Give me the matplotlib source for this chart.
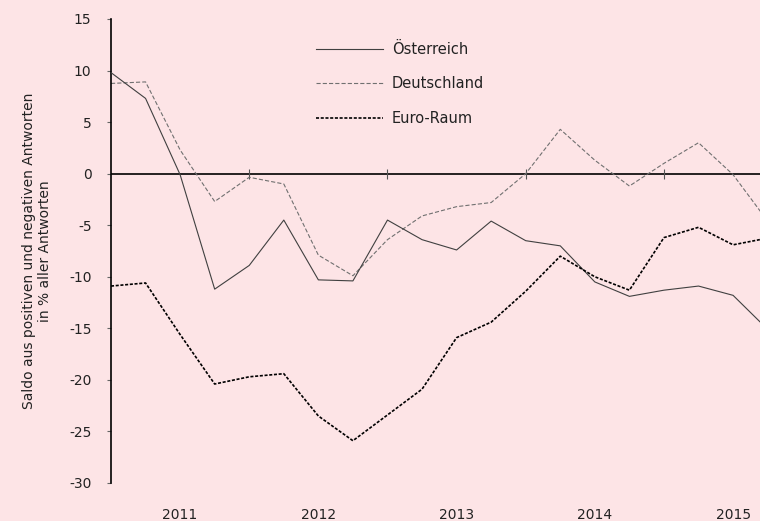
"""Saldo aus positiven und negativen Antworten: Österreich, Deutschland, Euro-Raum."""

import matplotlib as mpl
import matplotlib.pyplot as plt
import numpy as np

BG = "#fde4e6"

mpl.rcParams.update({
    "font.family": "DejaVu Sans",
    "font.size": 10,
    "lines.scale_dashes": False,
    "axes.unicode_minus": False,
})

# quarterly observations, 2011 onwards (last one runs off the right edge)
oesterreich = [9.8, 7.3, -0.1, -11.2, -8.9, -4.5, -10.3, -10.4, -4.5, -6.4,
               -7.4, -4.6, -6.5, -7.0, -10.5, -11.9, -11.3, -10.9, -11.8, -15.1]
deutschland = [8.75, 8.9, 2.3, -2.7, -0.35, -1.0, -7.9, -9.9, -6.4, -4.1,
               -3.2, -2.8, 0.0, 4.3, 1.3, -1.2, 1.0, 3.0, -0.1, -4.6]
euro_raum = [-10.9, -10.6, -15.6, -20.4, -19.7, -19.4, -23.5, -25.9, -23.4, -20.9,
             -15.9, -14.4, -11.4, -8.0, -10.0, -11.3, -6.2, -5.2, -6.9, -6.25]
years = ["2011", "2012", "2013", "2014", "2015"]
year_pos = [2, 6, 10, 14, 18]
year_breaks = [4, 8, 12, 16]

x = np.arange(len(oesterreich))

fig = plt.figure(figsize=(7.60, 5.21), dpi=100, facecolor=BG)
ax = fig.add_axes([111 / 760, 1 - 483 / 521, 1 - 111 / 760, (483 - 19) / 521])
ax.set_facecolor(BG)

ax.axhline(0, color="black", lw=1.2, zorder=1)
ax.plot(year_breaks, [0] * len(year_breaks), ls="none", marker="|", ms=7.5,
        mew=0.8, color="#555555", zorder=1)

ax.plot(x, oesterreich, color="#404040", lw=0.8, label="Österreich", zorder=3)
ax.plot(x, deutschland, color="#707070", lw=0.8, dashes=(3, 1.5),
        label="Deutschland", zorder=2)
ax.plot(x, euro_raum, color="black", lw=1.2, dashes=(2.2, 1.2),
        label="Euro-Raum", zorder=4)

ax.set_xlim(0, (760 - 111) / 34.56)
ax.set_ylim(-30, 15)
ax.set_yticks(np.arange(-30, 16, 5))
ax.set_xticks(year_pos)
ax.set_xticklabels(years)

for s in ("top", "right", "bottom"):
    ax.spines[s].set_visible(False)
ax.spines["left"].set_linewidth(1.2)
ax.tick_params(axis="y", length=3, width=0.8, color="#666666", pad=11, labelsize=10,
               labelcolor="#222222")
ax.tick_params(axis="x", length=0, pad=18, labelsize=10, labelcolor="#222222")

ax.set_ylabel("Saldo aus positiven und negativen Antworten\nin % aller Antworten",
              fontsize=10, color="#222222", linespacing=1.25, labelpad=12)

leg = ax.legend(loc="upper left", bbox_to_anchor=((316 - 111) / 649, 1 - 23 / 464),
                frameon=False, handlelength=4.6, handletextpad=0.6, labelspacing=1.33,
                fontsize=10.5, borderaxespad=0, borderpad=0)
for t in leg.get_texts():
    t.set_color("#222222")

fig.savefig("out.png", dpi=100, facecolor=BG)
